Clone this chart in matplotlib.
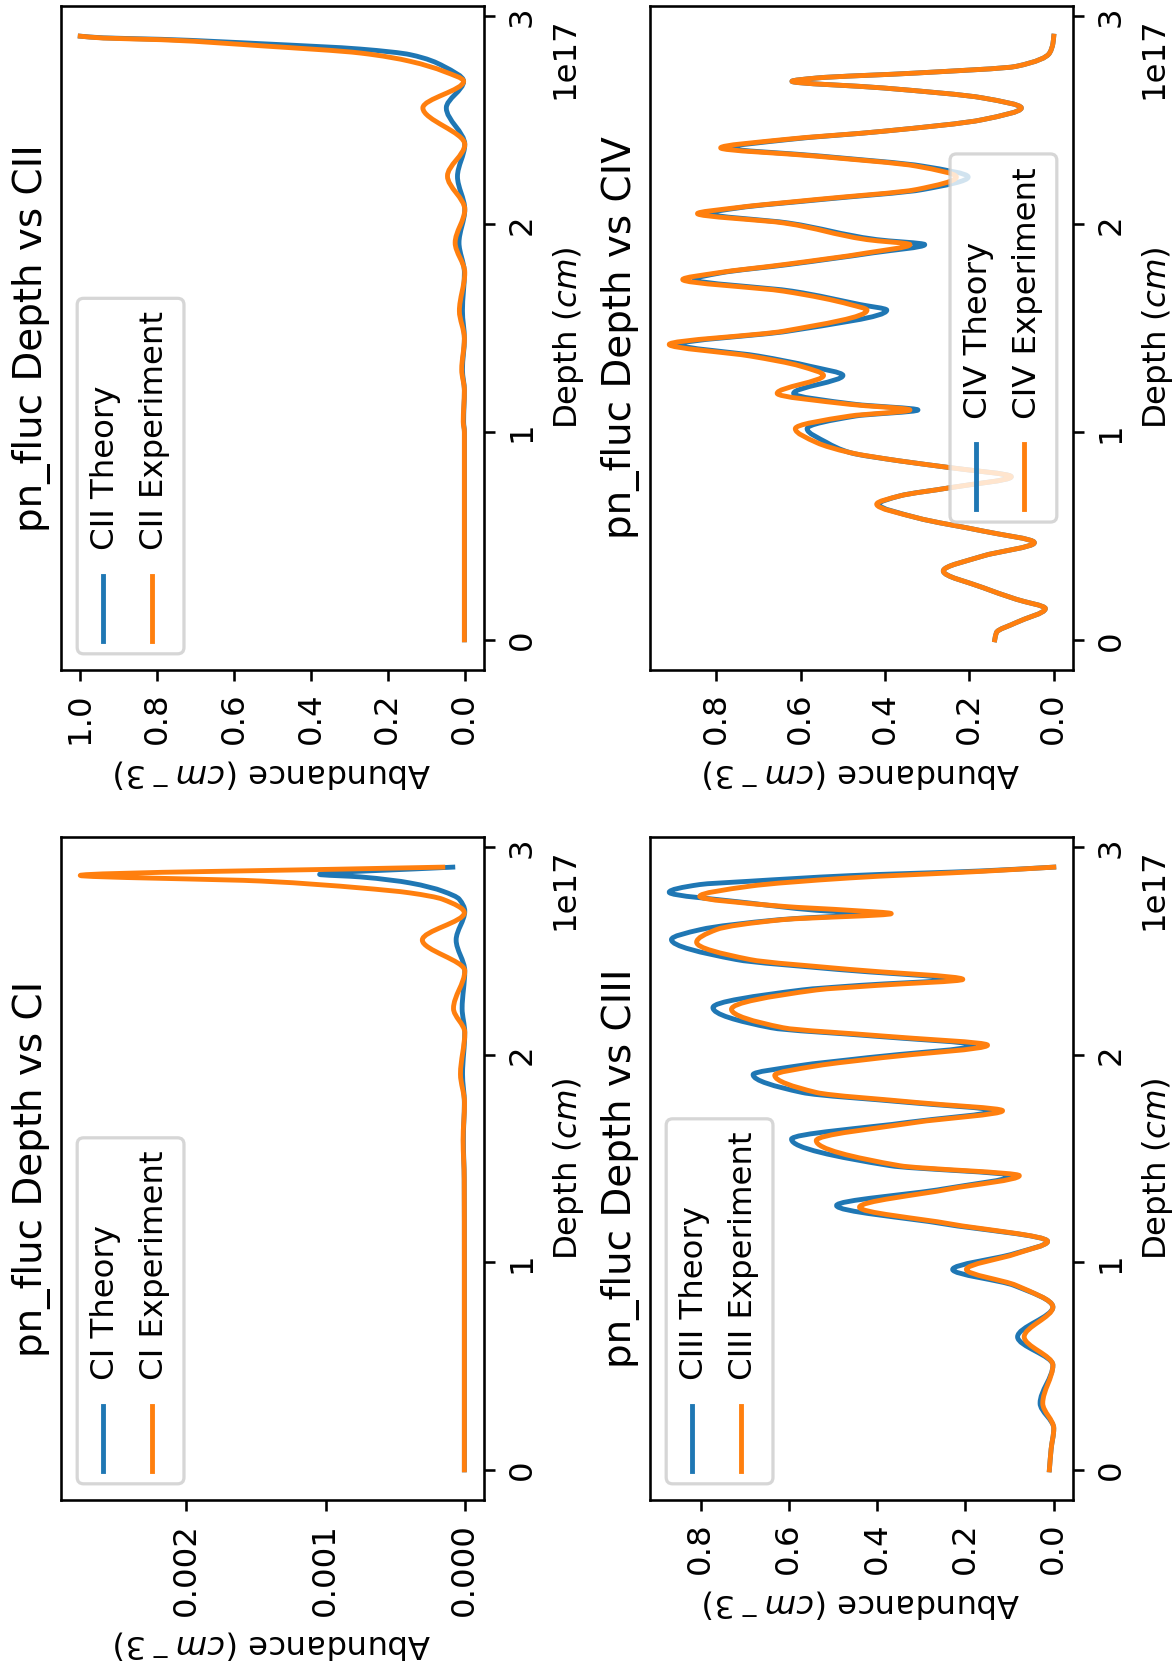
import matplotlib
matplotlib.use("Agg")
import matplotlib.pyplot as plt
from matplotlib.patches import FancyBboxPatch, PathPatch
from matplotlib.lines import Line2D
from matplotlib.path import Path
from matplotlib.transforms import IdentityTransform

DPI = 233
W, H = 1175, 1669

# ---------------- data (depth in units of 1e17 cm) ----------------
ci_theory_depth = [0.0, 0.5, 1.0, 1.4, 1.59, 1.77, 1.907, 2.107, 2.223, 2.404, 2.553, 2.692,
                   2.749, 2.788, 2.828, 2.857, 2.869, 2.904]
ci_theory = [0.003e-3, 0.003e-3, 0.003e-3, 0.004e-3, 0.010e-3, 0.003e-3, 0.016e-3, 0.0, 0.019e-3,
             0.0, 0.062e-3, 0.0, 0.039e-3, 0.158e-3, 0.395e-3, 0.752e-3, 1.043e-3, 0.086e-3]
ci_exp_depth = [0.0, 0.5, 1.0, 1.4, 1.59, 1.77, 1.907, 2.107, 2.223, 2.404, 2.553, 2.684,
                2.749, 2.780, 2.804, 2.837, 2.864, 2.904]
ci_exp = [0.003e-3, 0.003e-3, 0.003e-3, 0.004e-3, 0.012e-3, 0.002e-3, 0.031e-3, 0.0, 0.081e-3,
          0.0, 0.305e-3, 0.003e-3, 0.158e-3, 0.395e-3, 0.752e-3, 1.466e-3, 2.763e-3, 0.158e-3]

cii_theory_depth = [0.0, 0.5, 1.0, 1.05, 1.2, 1.3, 1.45, 1.583, 1.767, 1.911, 2.071, 2.23, 2.384,
                    2.56, 2.688, 2.76, 2.816, 2.843, 2.869, 2.89, 2.897, 2.905]
cii_theory = [0.001, 0.001, 0.001, 0.003, 0.001, 0.006, 0.001, 0.006, 0.001, 0.015, 0.0, 0.019,
              0.0, 0.048, 0.003, 0.055, 0.142, 0.272, 0.532, 0.79, 0.94, 1.0]
cii_exp_depth = [0.0, 0.5, 1.0, 1.05, 1.2, 1.3, 1.45, 1.583, 1.767, 1.911, 2.071, 2.232, 2.384,
                 2.56, 2.688, 2.736, 2.784, 2.824, 2.859, 2.888, 2.896, 2.905]
cii_exp = [0.001, 0.001, 0.001, 0.004, 0.001, 0.008, 0.001, 0.014, 0.0, 0.025, 0.0, 0.045,
           0.0, 0.109, 0.003, 0.055, 0.142, 0.272, 0.532, 0.79, 0.94, 1.0]

ciii_theory_depth = [0.0, 0.10, 0.20, 0.321, 0.505, 0.641, 0.785, 0.889, 0.966, 1.042,
                     1.101, 1.186, 1.274, 1.354, 1.418, 1.466, 1.594, 1.675, 1.731, 1.771,
                     1.819, 1.905, 1.947, 1.987, 2.047, 2.091, 2.131, 2.228, 2.313, 2.335,
                     2.364, 2.412, 2.460, 2.556, 2.604, 2.652, 2.681, 2.697, 2.732, 2.784,
                     2.821, 2.837, 2.864, 2.887, 2.905]
ciii_theory = [0.010, 0.006, 0.0, 0.031, 0.002, 0.082, 0.002, 0.090, 0.229, 0.090,
               0.014, 0.250, 0.492, 0.250, 0.097, 0.370, 0.594, 0.330, 0.138, 0.330,
               0.570, 0.681, 0.580, 0.420, 0.180, 0.410, 0.640, 0.772, 0.570, 0.440,
               0.236, 0.490, 0.720, 0.866, 0.800, 0.620, 0.425, 0.538, 0.689, 0.871,
               0.802, 0.689, 0.462, 0.161, 0.0]
ciii_exp_depth = [0.0, 0.10, 0.20, 0.321, 0.505, 0.641, 0.785, 0.889, 0.966, 1.042,
                  1.101, 1.186, 1.266, 1.354, 1.418, 1.466, 1.587, 1.675, 1.731, 1.771,
                  1.819, 1.902, 1.947, 1.987, 2.047, 2.091, 2.131, 2.220, 2.313, 2.335,
                  2.364, 2.412, 2.460, 2.543, 2.604, 2.652, 2.681, 2.697, 2.716, 2.764,
                  2.813, 2.853, 2.885, 2.905]
ciii_exp = [0.010, 0.006, 0.0, 0.025, 0.002, 0.067, 0.002, 0.085, 0.198, 0.085,
            0.014, 0.236, 0.440, 0.236, 0.078, 0.349, 0.538, 0.312, 0.116, 0.312,
            0.538, 0.632, 0.538, 0.387, 0.150, 0.387, 0.613, 0.730, 0.538, 0.400,
            0.206, 0.462, 0.689, 0.809, 0.764, 0.613, 0.368, 0.462, 0.613, 0.802,
            0.689, 0.462, 0.161, 0.0]

civ_depth = [0.003, 0.038, 0.086, 0.153, 0.198, 0.254, 0.334, 0.406, 0.470, 0.526,
             0.590, 0.655, 0.695, 0.734, 0.787, 0.831, 0.863, 0.903, 0.951, 1.018,
             1.079, 1.108, 1.135, 1.188, 1.274, 1.319, 1.367, 1.423, 1.487, 1.588,
             1.615, 1.679, 1.735, 1.767, 1.807, 1.863, 1.903, 1.927, 2.007, 2.052,
             2.079, 2.120, 2.168, 2.228, 2.280, 2.328, 2.368, 2.408, 2.448, 2.504,
             2.560, 2.608, 2.656, 2.688, 2.704, 2.728, 2.760, 2.824, 2.870, 2.905]
civ_theory = [0.140, 0.136, 0.089, 0.020, 0.089, 0.168, 0.262, 0.168, 0.046, 0.168,
              0.325, 0.415, 0.365, 0.247, 0.101, 0.247, 0.365, 0.483, 0.538, 0.585,
              0.470, 0.322, 0.470, 0.617, 0.500, 0.580, 0.700, 0.889, 0.630, 0.396,
              0.460, 0.620, 0.853, 0.790, 0.630, 0.430, 0.306, 0.420, 0.630, 0.818,
              0.750, 0.550, 0.310, 0.203, 0.310, 0.550, 0.770, 0.630, 0.404, 0.168,
              0.077, 0.168, 0.404, 0.621, 0.562, 0.325, 0.089, 0.010, 0.002, 0.0]
civ_exp = [0.140, 0.136, 0.089, 0.020, 0.089, 0.168, 0.262, 0.168, 0.046, 0.168,
           0.325, 0.420, 0.365, 0.247, 0.101, 0.247, 0.365, 0.483, 0.562, 0.613,
           0.483, 0.341, 0.483, 0.656, 0.546, 0.601, 0.719, 0.912, 0.640, 0.443,
           0.483, 0.640, 0.880, 0.798, 0.640, 0.443, 0.341, 0.443, 0.640, 0.845,
           0.759, 0.562, 0.325, 0.231, 0.325, 0.562, 0.790, 0.640, 0.404, 0.168,
           0.077, 0.168, 0.404, 0.621, 0.562, 0.325, 0.089, 0.010, 0.002, 0.0]

depth_ticks = [0, 1e17, 2e17, 3e17]
DEPTH_UNIT = 1e17

panels = [
    dict(ion="CII", rect=(61, 6, 484, 670), loc="upper left",
         th=(cii_theory_depth, cii_theory), ex=(cii_exp_depth, cii_exp),
         xticks=[0.0, 0.2, 0.4, 0.6, 0.8, 1.0]),
    dict(ion="CIV", rect=(650, 6, 1073, 670), loc="lower center",
         th=(civ_depth, civ_theory), ex=(civ_depth, civ_exp),
         xticks=[0.0, 0.2, 0.4, 0.6, 0.8]),
    dict(ion="CI", rect=(61, 837, 484, 1500), loc="upper left",
         th=(ci_theory_depth, ci_theory), ex=(ci_exp_depth, ci_exp),
         xticks=[0.000, 0.001, 0.002]),
    dict(ion="CIII", rect=(650, 837, 1073, 1500), loc="upper left",
         th=(ciii_theory_depth, ciii_theory), ex=(ciii_exp_depth, ciii_exp),
         xticks=[0.0, 0.2, 0.4, 0.6, 0.8]),
]

fig = plt.figure(figsize=(W / DPI, H / DPI), dpi=DPI)
renderer = fig.canvas.get_renderer()
PX = DPI / 72.0


def smooth_curve(ax, depth, values, color):
    """Draw the read points as a smooth (shape-preserving cubic) curve of value vs depth."""
    n = len(depth)
    h = [depth[i + 1] - depth[i] for i in range(n - 1)]
    s = [(values[i + 1] - values[i]) / h[i] for i in range(n - 1)]
    m = [0.0] * n
    m[0], m[-1] = s[0], s[-1]
    for i in range(1, n - 1):
        if s[i - 1] * s[i] <= 0:
            m[i] = 0.0
        else:
            w1 = 2 * h[i] + h[i - 1]
            w2 = h[i] + 2 * h[i - 1]
            m[i] = (w1 + w2) / (w1 / s[i - 1] + w2 / s[i])
    verts = [(values[0], depth[0] * DEPTH_UNIT)]
    codes = [Path.MOVETO]
    for i in range(n - 1):
        d0, d1 = depth[i], depth[i + 1]
        hh = d1 - d0
        verts += [(values[i] + m[i] * hh / 3, (d0 + hh / 3) * DEPTH_UNIT),
                  (values[i + 1] - m[i + 1] * hh / 3, (d1 - hh / 3) * DEPTH_UNIT),
                  (values[i + 1], d1 * DEPTH_UNIT)]
        codes += [Path.CURVE4] * 3
    ax.add_patch(PathPatch(Path(verts, codes), facecolor="none", edgecolor=color,
                           lw=1.5, capstyle="projecting", joinstyle="round"))


def rotated_legend(ax, labels, colors, loc):
    fs = 10.0
    f = fs * PX
    bb = ax.get_window_extent(renderer)
    texts, widths = [], []
    for lab in labels:
        t = fig.text(0, 0, lab, rotation=90, fontsize=fs, transform=IdentityTransform(),
                     ha="left", va="bottom", zorder=7)
        widths.append(t.get_window_extent(renderer).height)
        texts.append(t)
    pad, hl, htp, ls, th, bap = 0.4 * f, 2.0 * f, 0.8 * f, 0.5 * f, 1.0 * f, 0.5 * f
    n = len(labels)
    bw = 2 * pad + n * th + (n - 1) * ls
    bh = 2 * pad + hl + htp + max(widths)
    if loc == "upper left":
        x0, y0 = bb.x0 + bap, bb.y0 + bap
    else:
        x0, y0 = bb.x1 - bap - bw, (bb.y0 + bb.y1) / 2 - bh / 2
    frame = FancyBboxPatch((x0, y0), bw, bh,
                           boxstyle="round,pad=0,rounding_size=%f" % (0.2 * f),
                           transform=IdentityTransform(), facecolor="white",
                           edgecolor="0.8", alpha=0.8, lw=1.0, zorder=5)
    fig.add_artist(frame)
    for i, (t, c) in enumerate(zip(texts, colors)):
        cx = x0 + pad + i * (th + ls)
        hx = cx + 0.4 * f
        fig.add_artist(Line2D([hx, hx], [y0 + pad, y0 + pad + hl], color=c, lw=1.5,
                              transform=IdentityTransform(), zorder=6,
                              solid_capstyle="projecting"))
        t.set_position((cx, y0 + pad + hl + htp))


for p in panels:
    l, t, r, b = p["rect"]
    ax = fig.add_axes([l / W, 1 - b / H, (r - l) / W, (b - t) / H])
    dth, vth = p["th"]
    dex, vex = p["ex"]
    smooth_curve(ax, dth, vth, "C0")
    smooth_curve(ax, dex, vex, "C1")
    ax.autoscale_view()
    ax.invert_xaxis()
    ax.set_xticks(p["xticks"])
    ax.set_yticks(depth_ticks)
    ax.yaxis.tick_right()
    ax.yaxis.set_label_position("right")
    ax.tick_params(axis="x", labelrotation=90)
    ax.tick_params(axis="y", labelrotation=90)
    plt.setp(ax.get_yticklabels(), va="center")
    ax.yaxis.get_offset_text().set_visible(False)
    ax.set_xlabel("Abundance $(cm^-3)$", rotation=180)
    ax.set_ylabel("Depth $(cm)$")

    bb = ax.get_window_extent(renderer)
    fig.text(bb.x0 - 3 * PX, (bb.y0 + bb.y1) / 2, "pn_fluc Depth vs %s" % p["ion"],
             rotation=90, fontsize=12, ha="right", va="center",
             transform=IdentityTransform())
    fig.text(bb.x1 + 65, bb.y1 - 11, "1e17", rotation=90, fontsize=10,
             ha="left", va="top", transform=IdentityTransform())
    rotated_legend(ax, ["%s Theory" % p["ion"], "%s Experiment" % p["ion"]],
                   ["C0", "C1"], p["loc"])

fig.savefig("out.png", dpi=DPI)
